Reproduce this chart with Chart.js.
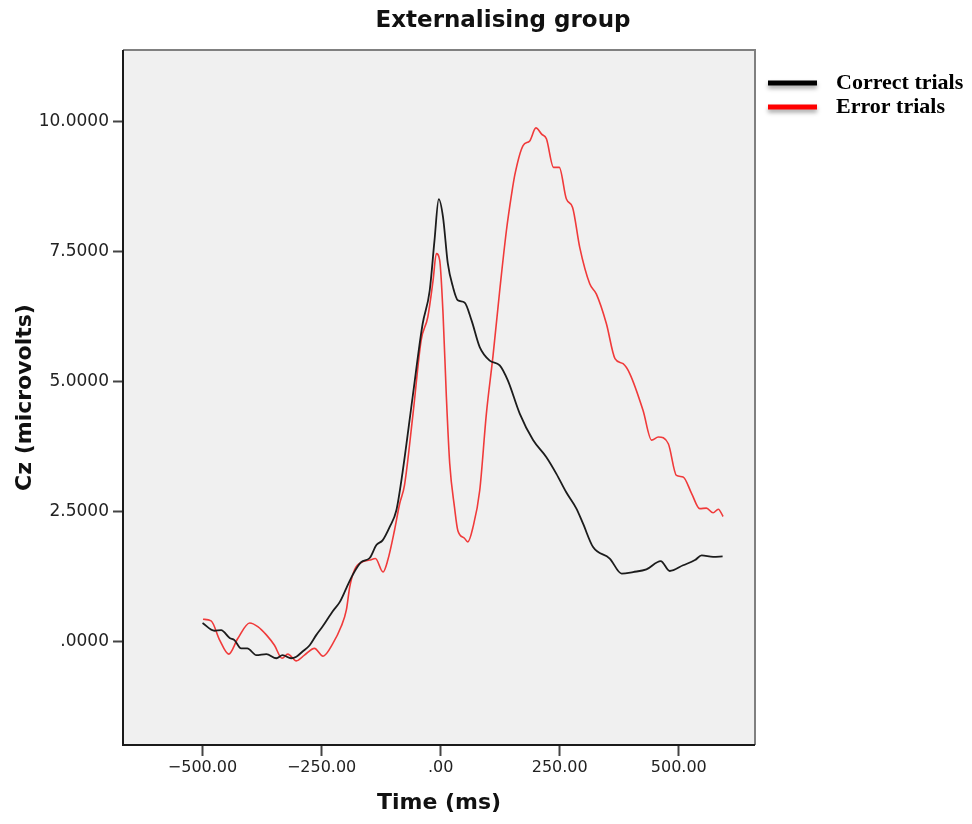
<!DOCTYPE html>
<html>
<head>
<meta charset="utf-8">
<title>Externalising group</title>
<script src="https://cdn.jsdelivr.net/npm/chart.js@4/dist/chart.umd.min.js"></script>
<style>
  html, body { margin: 0; padding: 0; background: #fff; }
  #wrap { width: 972px; height: 824px; position: relative; }
</style>
</head>
<body>
<div id="wrap"><canvas id="erp"></canvas></div>
<script>
// values (time in ms, amplitude in microvolts)
const chartTitle = 'Externalising group';
const seriesNames = ['Correct trials', 'Error trials'];
const seriesColors = ['#1c1c1c', '#f03a3a'];

const correctTime = [-500,-475,-461,-443,-433,-419,-406,-387,-366,-345,-332,-314,-303,-290,-275,-261,-248,-227,-212,-198,
  -185,-167,-149,-135,-122,-107,-93,-80,-59,-38,-23,-13,-4,5,15,26,36,50,65,82,
  103,124,141,166,194,222,243,264,285,299,320,355,380,404,432,462,481,509,534,548,572,592];
const correctUv = [0.35,0.20,0.21,0.06,0.02,-0.14,-0.14,-0.27,-0.25,-0.33,-0.27,-0.33,-0.30,-0.20,-0.08,0.12,0.28,0.57,0.75,1.02,
  1.27,1.52,1.60,1.85,1.94,2.20,2.52,3.25,4.69,6.10,6.75,7.71,8.51,8.16,7.27,6.81,6.56,6.52,6.17,5.66,
  5.40,5.31,5.02,4.38,3.87,3.54,3.22,2.86,2.55,2.26,1.81,1.59,1.30,1.33,1.38,1.54,1.35,1.46,1.56,1.65,1.62,1.63];

const errorTime = [-499,-482,-464,-445,-426,-401,-384,-366,-349,-333,-321,-303,-286,-265,-247,-226,-209,-198,-191,-181,
  -163,-149,-137,-121,-111,-97,-86,-76,-58,-41,-27,-16,-9,-2,5,12,19,29,36,50,
  57,68,82,96,110,124,138,149,156,173,187,200,212,222,237,249,264,277,292,313,
  327,348,366,383,397,425,443,457,478,495,509,527,544,558,572,583,593];
const errorUv = [0.42,0.39,0.02,-0.25,0.05,0.35,0.28,0.12,-0.08,-0.33,-0.25,-0.38,-0.27,-0.14,-0.29,-0.04,0.28,0.60,1.04,1.37,
  1.53,1.56,1.59,1.33,1.56,2.13,2.65,3.00,4.38,5.79,6.24,6.94,7.46,7.33,6.30,4.70,3.42,2.58,2.13,1.98,
  1.91,2.20,2.90,4.38,5.50,6.75,7.90,8.61,8.99,9.54,9.63,9.88,9.76,9.67,9.12,9.12,8.51,8.35,7.58,6.88,
  6.68,6.11,5.44,5.34,5.15,4.44,3.87,3.93,3.80,3.19,3.16,2.84,2.55,2.56,2.47,2.54,2.40];

const xTicks = [-500, -250, 0, 250, 500];
const yTicks = [0, 2.5, 5, 7.5, 10];

// SPSS style number labels: drop the leading zero (".00", ".0000")
const spssNum = (v, digits) => {
  const s = Math.abs(v).toFixed(digits).replace(/^0\./, '.');
  return (v < 0 ? '\u2212' : '') + s;
};

const toPoints = (xs, ys) => xs.map((x, i) => ({ x, y: ys[i] }));

// plot background, frame, title and the side legend
const spssDecor = {
  id: 'spssDecor',
  beforeDatasetsDraw(chart) {
    const { ctx, chartArea: a } = chart;
    ctx.save();
    ctx.fillStyle = '#f0f0f0';
    ctx.fillRect(a.left, a.top, a.width, a.height);
    ctx.restore();
  },
  afterDraw(chart) {
    const { ctx, chartArea: a } = chart;
    ctx.save();
    // frame
    ctx.lineWidth = 2;
    ctx.strokeStyle = '#808080';
    ctx.beginPath();
    ctx.moveTo(a.left, a.top); ctx.lineTo(a.right, a.top); ctx.lineTo(a.right, a.bottom);
    ctx.stroke();
    ctx.strokeStyle = '#1a1a1a';
    ctx.beginPath();
    ctx.moveTo(a.left, a.top); ctx.lineTo(a.left, a.bottom); ctx.lineTo(a.right, a.bottom);
    ctx.stroke();

    // title
    ctx.fillStyle = '#111';
    ctx.font = 'bold 23px "DejaVu Sans"';
    ctx.textAlign = 'center';
    ctx.textBaseline = 'middle';
    ctx.fillText(chartTitle, chart.width / 2 + 17, 21);

    // legend
    chart.data.datasets.forEach((ds, i) => {
      const y = a.top + 33 + i * 24;
      ctx.save();
      ctx.shadowColor = 'rgba(0,0,0,0.35)';
      ctx.shadowBlur = 4;
      ctx.shadowOffsetY = 3;
      ctx.strokeStyle = ds.legendColor;
      ctx.lineWidth = 5;
      ctx.beginPath();
      ctx.moveTo(a.right + 13, y);
      ctx.lineTo(a.right + 62, y);
      ctx.stroke();
      ctx.restore();
      ctx.fillStyle = '#000';
      ctx.font = 'bold 22px "Liberation Serif"';
      ctx.textAlign = 'left';
      ctx.textBaseline = 'middle';
      ctx.fillText(ds.label, a.right + 81, y);
    });
    ctx.restore();
  }
};

new Chart(document.getElementById('erp'), {
  type: 'line',
  data: {
    datasets: [
      {
        label: seriesNames[0],
        data: toPoints(correctTime, correctUv),
        borderColor: seriesColors[0],
        legendColor: '#000',
        borderWidth: 1.8,
        pointRadius: 0,
        cubicInterpolationMode: 'monotone'
      },
      {
        label: seriesNames[1],
        data: toPoints(errorTime, errorUv),
        borderColor: seriesColors[1],
        legendColor: '#ff0000',
        borderWidth: 1.6,
        pointRadius: 0,
        cubicInterpolationMode: 'monotone'
      }
    ]
  },
  options: {
    responsive: true,
    maintainAspectRatio: false,
    animation: false,
    layout: { padding: { top: 50, right: 217, bottom: 0, left: 0 } },
    plugins: {
      legend: { display: false },
      title: { display: false },
      tooltip: { enabled: false }
    },
    scales: {
      x: {
        type: 'linear',
        min: -667,
        max: 660,
        afterBuildTicks: (s) => { s.ticks = xTicks.map(v => ({ value: v })); },
        afterFit: (s) => { s.height = 79; },
        border: { display: false },
        grid: { drawOnChartArea: false, drawTicks: true, tickLength: 11, tickWidth: 2, tickColor: '#444' },
        ticks: {
          padding: 2,
          maxRotation: 0,
          color: '#222',
          font: { family: '"DejaVu Sans"', size: 16 },
          callback: (v) => spssNum(v, 2)
        },
        title: {
          display: true,
          text: 'Time (ms)',
          color: '#111',
          font: { family: '"DejaVu Sans"', size: 22, weight: 'bold' },
          padding: { top: 0, bottom: 8 }
        }
      },
      y: {
        min: -2.0,
        max: 11.38,
        afterBuildTicks: (s) => { s.ticks = yTicks.map(v => ({ value: v })); },
        afterFit: (s) => { s.width = 123; },
        border: { display: false },
        grid: { drawOnChartArea: false, drawTicks: true, tickLength: 10, tickWidth: 2, tickColor: '#444' },
        ticks: {
          padding: 4,
          color: '#222',
          font: { family: '"DejaVu Sans"', size: 17 },
          callback: (v) => spssNum(v, 4)
        },
        title: {
          display: true,
          text: 'Cz (microvolts)',
          color: '#111',
          font: { family: '"DejaVu Sans"', size: 22, weight: 'bold' },
          padding: { top: 12, bottom: 0 }
        }
      }
    }
  },
  plugins: [spssDecor]
});
</script>
</body>
</html>
